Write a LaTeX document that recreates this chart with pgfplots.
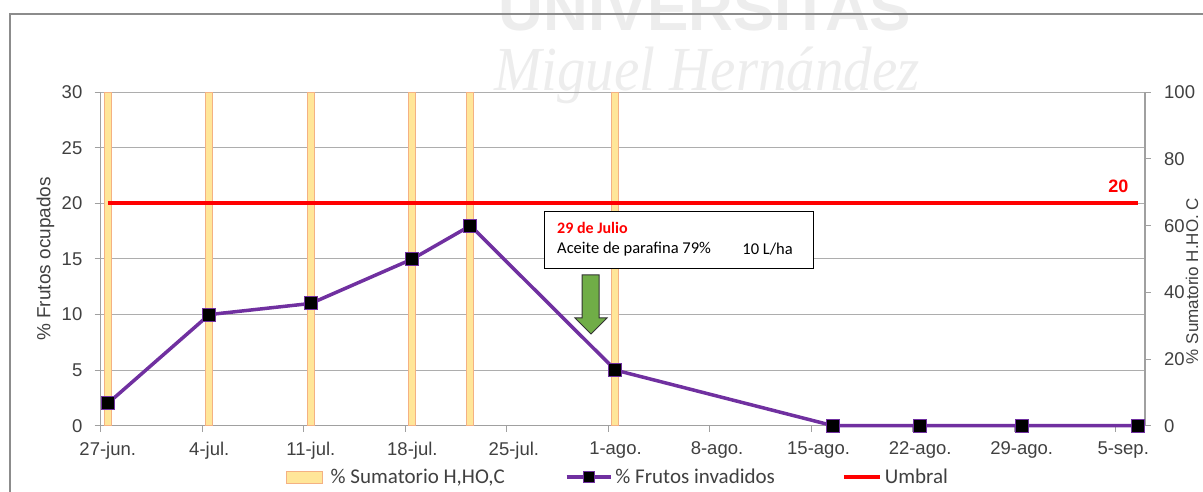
\documentclass[border=0pt]{standalone}
\usepackage{pgfplots}
\pgfplotsset{compat=1.18}
\usepackage{fontspec}
\setmainfont{Liberation Sans}
\newfontfamily\calibri{Carlito}
\newfontfamily\wmserif{Liberation Serif}
\definecolor{barfill}{HTML}{FFE699}
\definecolor{baredge}{HTML}{F4B183}
\definecolor{lilac}{HTML}{7030A0}
\definecolor{txt}{HTML}{404040}
\definecolor{gridc}{HTML}{ADADAD}
\definecolor{axc}{HTML}{A0A0A0}
\definecolor{arrowg}{HTML}{70AD47}

\begin{document}
\begin{tikzpicture}[x=1pt,y=1pt]
\path[use as bounding box] (0,0) rectangle (1203,492);
% watermark
\node[text=black!7, inner sep=0pt, font=\fontsize{62}{62}\selectfont\bfseries, anchor=base] at (705,461) {UNIVERSITAS};
\node[text=black!7, inner sep=0pt, font=\wmserif\itshape\fontsize{57}{57}\selectfont, anchor=base, yscale=1.1] at (707,401) {Miguel Hernández};
\draw[black!45, line width=1.2pt] (10,0) -- (10,478) -- (1203,478);

% left axis: grid, dates, % frutos
\begin{axis}[
  at={(100.5pt,66.3pt)}, anchor=south west, scale only axis,
  width=1044.5pt, height=333.4pt,
  xmin=-0.5, xmax=71.5, ymin=0, ymax=30,
  xtick={-0.5,6.5,...,69.5},
  xticklabels={27-jun.,4-jul.,11-jul.,18-jul.,25-jul.,1-ago.,8-ago.,15-ago.,22-ago.,29-ago.,5-sep.},
  ytick={0,5,...,30},
  /pgf/number format/assume math mode=true,
  axis x line*=bottom, axis y line*=left,
  axis line style={draw=axc, line width=1.2pt, -},
  tick align=outside, major tick length=6pt,
  tick style={draw=axc, line width=1pt},
  ymajorgrids, grid style={draw=gridc, line width=1pt},
  tick label style={font=\fontsize{18.5}{22}\selectfont, text=txt},
  xticklabel style={anchor=north, inner sep=0pt, xshift=7.25pt, yshift=-10pt},
  yticklabel style={anchor=east, inner sep=0pt, xshift=-12pt},
  ylabel={\% Frutos ocupados},
  ylabel style={at={(rel axis cs:-0.0479,0.5)}, anchor=base, font=\fontsize{19}{22}\selectfont, text=txt},
]
\end{axis}

% right axis: % Sumatorio H,HO,C bars
\begin{axis}[
  at={(100.5pt,66.3pt)}, anchor=south west, scale only axis,
  width=1044.5pt, height=333.4pt,
  xmin=-0.5, xmax=71.5, ymin=0, ymax=100,
  axis x line=none, axis y line*=right,
  ytick={0,20,...,100},
  /pgf/number format/assume math mode=true,
  axis line style={draw=axc, line width=1.2pt, -},
  tick align=outside, major tick length=6pt,
  tick style={draw=axc, line width=1pt},
  tick label style={font=\fontsize{18.5}{22}\selectfont, text=txt},
  yticklabel style={anchor=west, inner sep=0pt, xshift=13pt},
  ylabel={\% Sumatorio H.HO. C},
  ylabel style={at={(rel axis cs:1.0508,0.434)}, anchor=base, font=\fontsize{17}{20}\selectfont, text=txt},
]
\addplot[ybar, bar width=7pt, fill=barfill, draw=baredge, line width=1pt]
  coordinates {(0,100) (7,100) (14,100) (21,100) (25,100) (35,100)};
\end{axis}

% lines on top
\begin{axis}[
  at={(100.5pt,66.3pt)}, anchor=south west, scale only axis,
  width=1044.5pt, height=333.4pt,
  xmin=-0.5, xmax=71.5, ymin=0, ymax=30,
  hide axis, clip=false,
  legend columns=3,
  legend style={draw=none, fill=none, inner sep=0pt,
    at={(0.4945,-0.1539)}, anchor=center,
    font=\calibri\fontsize{21}{24}\selectfont, text=txt,
    nodes={inner sep=0pt},
    /tikz/every odd column/.append style={column sep=3pt},
    /tikz/every even column/.append style={column sep=60pt}},
]
\addlegendimage{legend image code/.code={\draw[fill=barfill, draw=baredge, line width=1pt] (0pt,-6pt) rectangle (36pt,6pt); \path (41pt,0pt);}}
\addlegendentry{\% Sumatorio H,HO,C}
\addplot[lilac, line width=3.5pt, mark=square*,
  mark options={fill=black, draw=lilac, line width=1pt, solid}, mark size=6.5pt,
  legend image code/.code={
    \draw[lilac, line width=3.5pt] (0pt,0pt) -- (44pt,0pt);
    \draw[fill=black, draw=lilac, line width=1pt] (16.5pt,-5.5pt) rectangle (27.5pt,5.5pt);}]
  coordinates {(0,2) (7,10) (14,11) (21,15) (25,18) (35,5) (50,0) (56,0) (63,0) (71,0)};
\addlegendentry{\% Frutos invadidos}
\addplot[red, line width=4pt,
  legend image code/.code={\path (0pt,0pt); \draw[red, line width=4pt] (7pt,0pt) -- (43pt,0pt);}]
  coordinates {(0,20) (7,20) (14,20) (21,20) (25,20) (35,20) (50,20) (56,20) (63,20) (71,20)};
\addlegendentry{Umbral}
\node[text=red, font=\fontsize{18}{21}\selectfont\bfseries] at (axis cs:69.67,21.5) {20};
\end{axis}

% application note
\draw[black, line width=1pt, fill=white] (544,223) rectangle (813,280);
\node[anchor=west, inner sep=0pt, text=red, font=\calibri\bfseries\fontsize{16}{18}\selectfont] at (557,264) {29 de Julio};
\node[anchor=west, inner sep=0pt, text=black, font=\calibri\fontsize{16.5}{18}\selectfont] at (557,243) {Aceite de parafina 79\%};
\node[anchor=east, inner sep=0pt, text=black, font=\calibri\fontsize{16.5}{18}\selectfont] at (793,243) {10 L/ha};
\draw[fill=arrowg, draw=black!80, line width=1pt]
  (582,217) -- (599,217) -- (599,174) -- (607,174) -- (591,158) -- (575,174) -- (582,174) -- cycle;
\end{tikzpicture}
\end{document}
